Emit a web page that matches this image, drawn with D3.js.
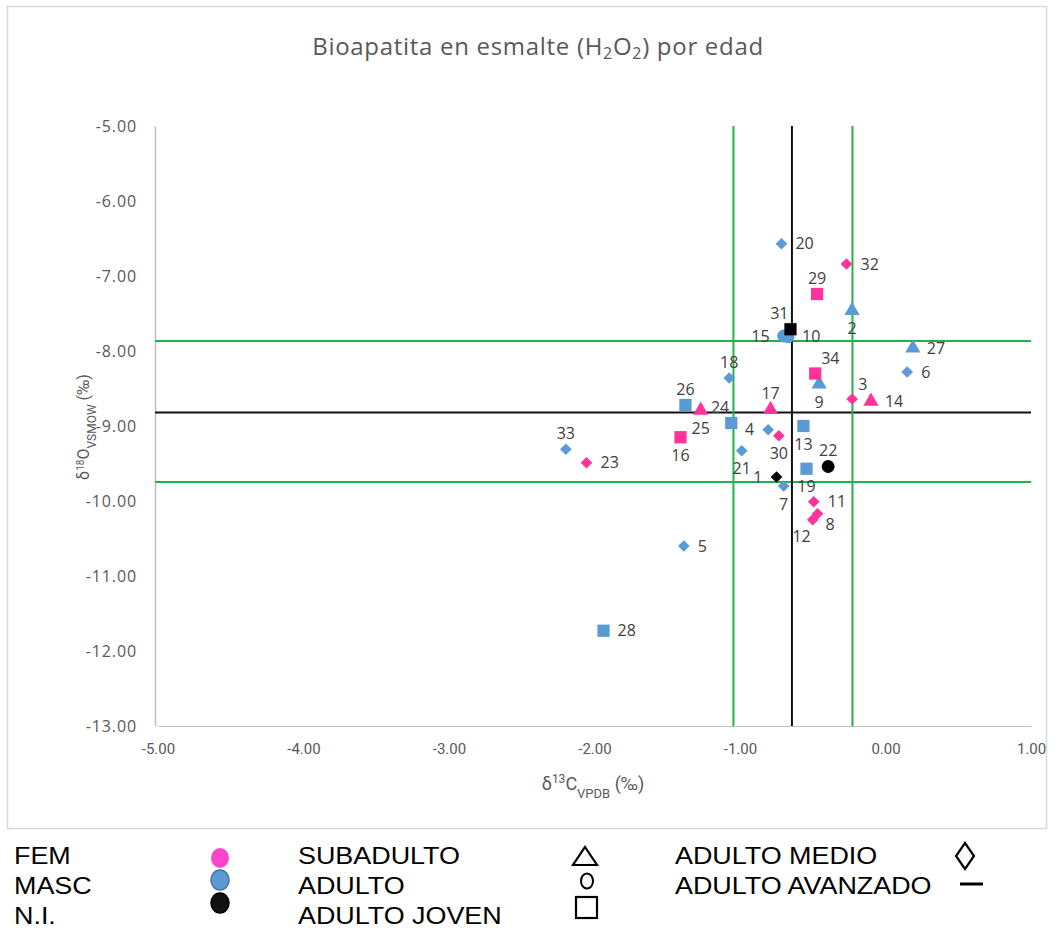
<!DOCTYPE html>
<html><head><meta charset="utf-8">
<script src="https://cdn.jsdelivr.net/npm/d3@7"></script>
<style>body{margin:0;background:#fff}svg{display:block}</style>
</head><body>
<svg id="c" width="1056" height="931"></svg>
<script>
// ---- data ----
const ids   = [1,2,3,4,5,6,7,8,9,10,11,12,13,14,15,16,17,18,19,20,21,22,23,24,25,26,27,28,29,30,31,32,33,34];
const d13C  = [-0.749,-0.23,-0.229,-0.806,-1.386,0.149,-0.70,-0.467,-0.456,-0.67,-0.493,-0.50,-0.564,-0.10,-0.70,-1.409,-0.79,-1.074,-0.543,-0.715,-0.988,-0.394,-2.055,-1.06,-1.27,-1.375,0.188,-1.938,-0.47,-0.733,-0.653,-0.268,-2.197,-0.483];
const d18O  = [-9.68,-7.46,-8.64,-9.05,-10.60,-8.28,-9.80,-10.17,-8.44,-7.81,-10.01,-10.25,-9.00,-8.67,-7.80,-9.15,-8.78,-8.36,-9.57,-6.57,-9.33,-9.54,-9.49,-8.96,-8.79,-8.72,-7.96,-11.73,-7.24,-9.13,-7.71,-6.84,-9.31,-8.30];
const sex   = ["NI","MASC","FEM","MASC","MASC","MASC","MASC","FEM","MASC","MASC","FEM","FEM","MASC","FEM","MASC","FEM","FEM","MASC","MASC","MASC","MASC","NI","FEM","MASC","FEM","MASC","MASC","MASC","FEM","FEM","NI","FEM","MASC","FEM"];
const age   = ["MEDIO","SUB","MEDIO","MEDIO","MEDIO","MEDIO","MEDIO","MEDIO","SUB","ADULTO","MEDIO","MEDIO","JOVEN","SUB","ADULTO","JOVEN","SUB","MEDIO","JOVEN","MEDIO","MEDIO","ADULTO","MEDIO","JOVEN","SUB","JOVEN","SUB","JOVEN","JOVEN","MEDIO","JOVEN","MEDIO","MEDIO","JOVEN"];
const labelPos = ["l","b","tr","l","r","r","b","br","b","r","r","bl","b","r","l","b","t","t","b","r","b","t","r","tl","b","t","r","r","t","b","tl","r","t","tr"];
const vLines = [-1.045,-0.643,-0.227];
const hLines = [-7.865,-8.82,-9.745];
const xTicks = [-5,-4,-3,-2,-1,0,1];
const yTicks = [-5,-6,-7,-8,-9,-10,-11,-12,-13];
const sexLegend = ["FEM","MASC","N.I."];
const ageLegend1 = ["SUBADULTO","ADULTO","ADULTO JOVEN"];
const ageLegend2 = ["ADULTO MEDIO","ADULTO AVANZADO"];

// ---- drawing ----
const svg = d3.select("#c");
const x = d3.scaleLinear().domain([-5,1]).range([158,1031]);
const y = d3.scaleLinear().domain([-5,-13]).range([126,726]);
const colors = {FEM:"#FF3399", MASC:"#5B9BD5", NI:"#000000"};
const greens = ["#22B14C","#111111","#22B14C"];
const fmt = d => d.toFixed(2);

svg.append("rect").attr("x",7.5).attr("y",6.5).attr("width",1039).attr("height",822)
  .attr("fill","#fff").attr("stroke","#D9D9D9").attr("stroke-width",1.5);

svg.append("text").attr("x",538).attr("y",55).attr("text-anchor","middle")
  .attr("font-family","Open Sans").attr("font-size",24).attr("fill","#595959").attr("letter-spacing","0.7px")
  .html('Bioapatita en esmalte (H<tspan baseline-shift="-25%" font-size="16">2</tspan>O<tspan baseline-shift="-25%" font-size="16">2</tspan>) por edad');

// y axis
const ya = svg.append("g").attr("transform","translate(155,0)")
  .call(d3.axisLeft(y).tickValues(yTicks).tickFormat(fmt).tickSize(0).tickPadding(18));
ya.select(".domain").attr("stroke","#BFBFBF").attr("stroke-width",1.5);
ya.selectAll("text").attr("font-family","Open Sans").attr("font-size",16).attr("fill","#595959").attr("letter-spacing","0.9px");
// x axis
const xa = svg.append("g").attr("transform","translate(0,726)")
  .call(d3.axisBottom(x).tickValues(xTicks).tickFormat(fmt).tickSize(0).tickPadding(17));
xa.select(".domain").attr("stroke","#BFBFBF").attr("stroke-width",1.2);
xa.selectAll("text").attr("font-family","Liberation Sans Narrow, Roboto, sans-serif").attr("font-size",15).attr("fill","#595959");

// axis titles
svg.append("text").attr("x",593).attr("y",790).attr("text-anchor","middle")
  .attr("font-family","Liberation Sans Narrow, Roboto, sans-serif").attr("font-size",18).attr("fill","#595959")
  .html('δ<tspan baseline-shift="super" font-size="12">13</tspan>C<tspan baseline-shift="sub" font-size="13">VPDB</tspan> (‰)');
svg.append("text").attr("transform","translate(89,427) rotate(-90)").attr("text-anchor","middle")
  .attr("font-family","Liberation Sans Narrow, Roboto, sans-serif").attr("font-size",16).attr("fill","#595959")
  .html('δ<tspan baseline-shift="super" font-size="10">18</tspan>O<tspan baseline-shift="sub" font-size="12">VSMOW</tspan> (‰)');

// reference lines
svg.selectAll(".hl").data(hLines).join("line")
  .attr("x1",155).attr("x2",1031).attr("y1",d=>y(d)).attr("y2",d=>y(d))
  .attr("stroke",(d,i)=>greens[i]).attr("stroke-width",2);
svg.selectAll(".vl").data(vLines).join("line")
  .attr("y1",126).attr("y2",726).attr("x1",d=>x(d)).attr("x2",d=>x(d))
  .attr("stroke",(d,i)=>greens[i]).attr("stroke-width",2);

// points
const shapeFor = {SUB:d3.symbolTriangle, ADULTO:d3.symbolCircle, JOVEN:d3.symbolSquare, MEDIO:d3.symbolSquare};
const sizeFor = {SUB:100, ADULTO:130, JOVEN:150, MEDIO:68};
const pts = ids.map((id,i)=>({id, cx:d13C[i], cy:d18O[i], s:sex[i], a:age[i], lp:labelPos[i]}));
svg.selectAll(".pt").data(pts).join("path")
  .attr("transform",d=>`translate(${x(d.cx)},${y(d.cy)})`+(d.a==="MEDIO"?" rotate(45)":""))
  .attr("d",d=>d3.symbol().type(shapeFor[d.a]).size(sizeFor[d.a])())
  .attr("fill",d=>colors[d.s]);

// labels
const off = {r:[14,0,"start"], l:[-14,0,"end"], t:[0,-16,"middle"], b:[0,18,"middle"],
  tr:[6,-15,"start"], tl:[-2,-16,"end"], br:[8,11,"start"], bl:[-2,17,"end"]};
svg.selectAll(".lb").data(pts).join("text")
  .attr("x",d=>x(d.cx)+off[d.lp][0]).attr("y",d=>y(d.cy)+off[d.lp][1])
  .attr("dy","0.35em").attr("text-anchor",d=>off[d.lp][2])
  .attr("font-family","Open Sans").attr("font-size",16).attr("fill","#404040")
  .text(d=>d.id);

// legend
const lg = svg.append("g").attr("font-family","Liberation Sans, Arial, sans-serif").attr("font-size",23).attr("fill","#000");
const rowY = [856,886,916];
const addCol = (arr, x0) => lg.selectAll(null).data(arr).join("text")
  .attr("transform",(d,i)=>`translate(${x0},${rowY[i]}) scale(1.17,1)`).attr("dy","0.36em").text(d=>d);
addCol(sexLegend, 14);
addCol(ageLegend1, 298);
addCol(ageLegend2, 675);
const legCols = ["#FF44CC","#5B9BD5","#111111"];
const legStroke = ["none","#41719C","#000"];
svg.selectAll(".lc").data(sexLegend).join("ellipse")
  .attr("cx",220).attr("cy",(d,i)=>[858,880,903][i]).attr("rx",9).attr("ry",10)
  .attr("fill",(d,i)=>legCols[i]).attr("stroke",(d,i)=>legStroke[i]).attr("stroke-width",1.5);
// shape keys
svg.append("path").attr("d","M585,847 L597,865 L573,865 Z").attr("fill","#fff").attr("stroke","#000").attr("stroke-width",2.2);
svg.append("ellipse").attr("cx",587).attr("cy",881).attr("rx",6).attr("ry",7.5).attr("fill","#fff").attr("stroke","#000").attr("stroke-width",2);
svg.append("rect").attr("x",576).attr("y",897).attr("width",21).attr("height",21).attr("fill","#fff").attr("stroke","#000").attr("stroke-width",2.2);
svg.append("path").attr("d","M965,843 L974,856 L965,869 L956,856 Z").attr("fill","#fff").attr("stroke","#000").attr("stroke-width",2.2);
svg.append("line").attr("x1",960).attr("x2",983).attr("y1",884).attr("y2",884).attr("stroke","#000").attr("stroke-width",3);
</script>
</body></html>
